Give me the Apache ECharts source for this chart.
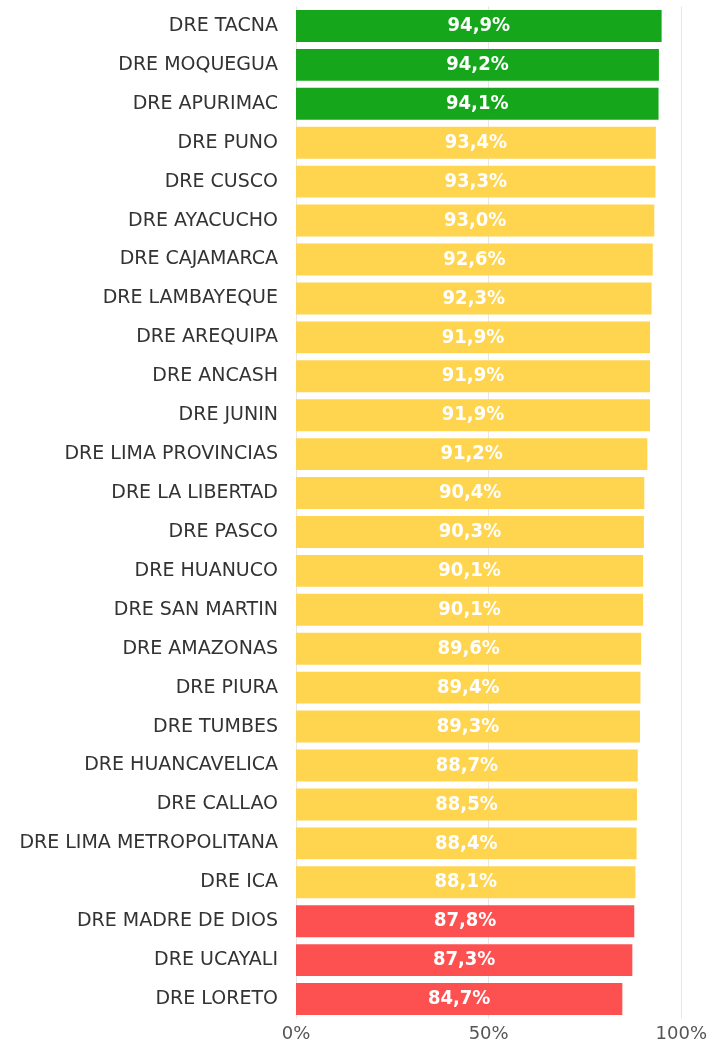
<!DOCTYPE html>
<html>
<head>
<meta charset="utf-8">
<script src="https://cdn.jsdelivr.net/npm/echarts@6/dist/echarts.min.js"></script>
<style>
html,body{margin:0;padding:0;background:#fff;}
#chart{width:710px;height:1044px;}
</style>
</head>
<body>
<div id="chart"></div>
<script>
const categories = [
  "DRE TACNA","DRE MOQUEGUA","DRE APURIMAC","DRE PUNO","DRE CUSCO","DRE AYACUCHO",
  "DRE CAJAMARCA","DRE LAMBAYEQUE","DRE AREQUIPA","DRE ANCASH","DRE JUNIN",
  "DRE LIMA PROVINCIAS","DRE LA LIBERTAD","DRE PASCO","DRE HUANUCO","DRE SAN MARTIN",
  "DRE AMAZONAS","DRE PIURA","DRE TUMBES","DRE HUANCAVELICA","DRE CALLAO",
  "DRE LIMA METROPOLITANA","DRE ICA","DRE MADRE DE DIOS","DRE UCAYALI","DRE LORETO"
];
const values = [94.9,94.2,94.1,93.4,93.3,93.0,92.6,92.3,91.9,91.9,91.9,91.2,90.4,90.3,90.1,90.1,89.6,89.4,89.3,88.7,88.5,88.4,88.1,87.8,87.3,84.7];
const xTicks = [0,50,100];

const GREEN = '#15A61B', YELLOW = '#FFD44F', RED = '#FD5050';
function colorFor(v){ return v >= 94 ? GREEN : (v < 88 ? RED : YELLOW); }
function fmt(v){ return v.toFixed(1).replace('.', ',') + '%'; }

const chart = echarts.init(document.getElementById('chart'), null, {renderer:'canvas'});
chart.setOption({
  animation:false,
  grid:{left:296, right:28, top:6.5, bottom:25.5, containLabel:false},
  xAxis:{
    type:'value', min:xTicks[0], max:xTicks[xTicks.length-1], interval:xTicks[1]-xTicks[0],
    axisLine:{show:false}, axisTick:{show:false},
    splitLine:{show:true, lineStyle:{color:'#e6e6e6', width:1}},
    axisLabel:{formatter:v=>v+'%', color:'#555', fontSize:18, fontFamily:'DejaVu Sans, sans-serif', margin:7, showMinLabel:true, showMaxLabel:true}
  },
  yAxis:{
    type:'category', inverse:true, data:categories,
    axisLine:{show:false}, axisTick:{show:false},
    axisLabel:{color:'#333', fontSize:19, fontFamily:'DejaVu Sans, sans-serif', margin:18}
  },
  series:[{
    type:'bar',
    data:values.map(v=>({value:v, itemStyle:{color:colorFor(v)}})),
    barCategoryGap:'18%',
    label:{
      show:true, position:'inside', formatter:p=>fmt(p.value),
      color:'#fff', fontSize:20, fontWeight:'bold',
      fontFamily:'DejaVu Sans Condensed, sans-serif'
    }
  }]
});
</script>
</body>
</html>
